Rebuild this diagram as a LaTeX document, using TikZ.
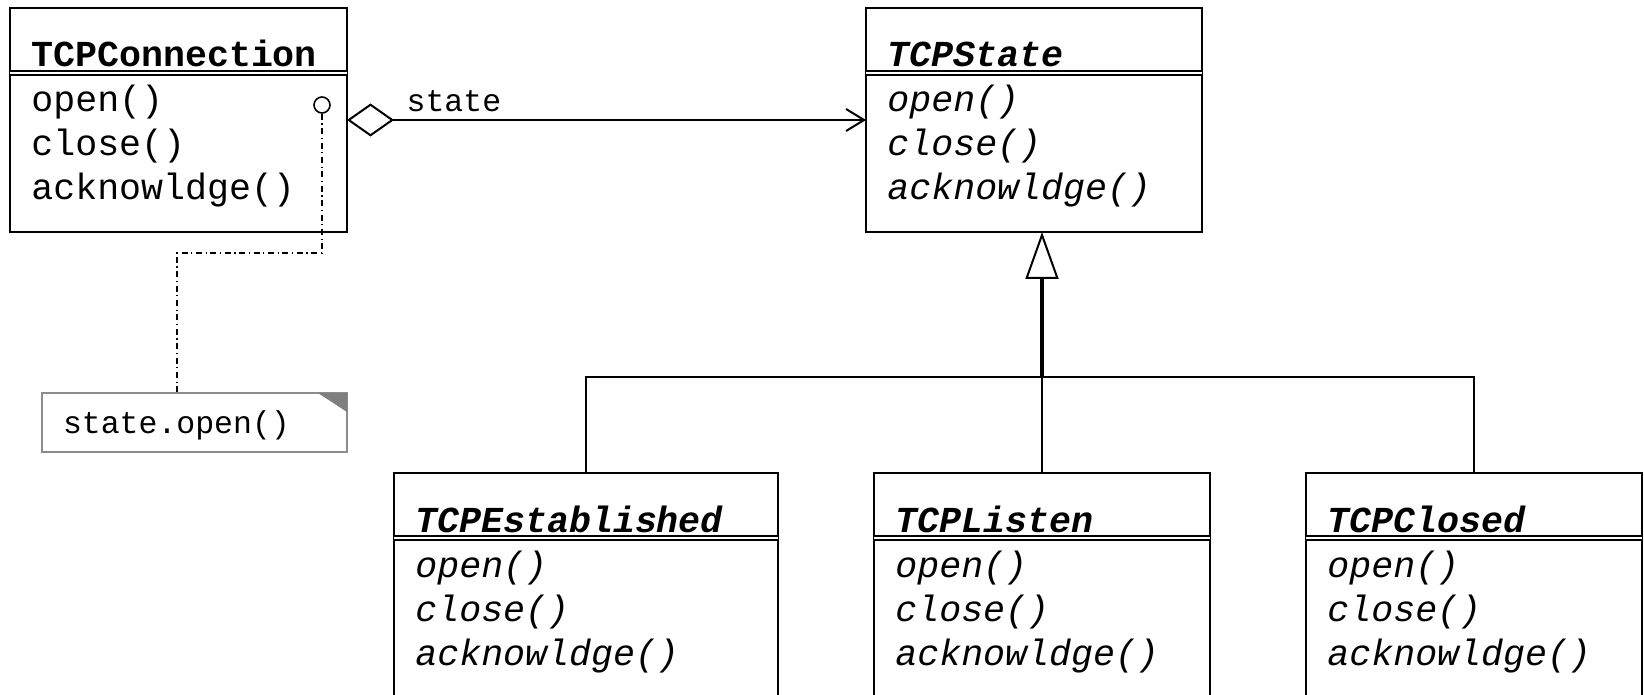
\documentclass[tikz,border=0pt]{standalone}
\usepackage{fontspec}
\setmonofont{Liberation Mono}
\usepackage{tikz}
\usetikzlibrary{arrows.meta,positioning,calc}
\definecolor{cInk}{HTML}{000000}
\definecolor{cNote}{HTML}{8C8C8C}
\definecolor{cFold}{HTML}{7F7F7F}
\newcommand{\umlfont}{\fontsize{18.3}{22}\selectfont\ttfamily}
\newcommand{\umlsmall}{\fontsize{15.75}{19}\selectfont\ttfamily}
\tikzset{
  cls/.style={draw=cInk,line width=1.15pt,anchor=north west,outer sep=0pt,inner sep=0pt,minimum width=#1,minimum height=112pt},
  cls/.default=168pt,
  cname/.style={anchor=base west,inner sep=0pt,text=cInk,font=\umlfont\bfseries},
  aname/.style={cname,font=\umlfont\bfseries\itshape},
  op/.style={anchor=base west,inner sep=0pt,text=cInk,font=\umlfont},
  aop/.style={op,font=\umlfont\itshape},
  sep/.style={draw=cInk,line width=1pt,double=white,double distance=1.35pt},
  assoc/.style={{Diamond[open,length=23.5pt,width=16.5pt]}-{Straight Barb[length=9pt,width=11pt]},line width=1pt,color=cInk},
  gen/.style={-{Triangle[open,length=23.5pt,width=16.5pt,line width=1pt]},line width=1.6pt,color=cInk},
  tree/.style={line width=0.9pt,color=cInk},
  lbl/.style={font=\umlsmall,text=cInk,inner sep=0pt},
  port/.style={circle,draw=cInk,line width=0.8pt,fill=white,minimum size=8pt,inner sep=0pt},
  notelink/.style={line width=0.8pt,color=cInk,dash pattern=on 3pt off 1.8pt on 0.6pt off 1.8pt},
  notebox/.style={draw=cNote,fill=white,line width=0.9pt,anchor=north west,outer sep=0pt,
    minimum width=152.5pt,text width=131.5pt,inner xsep=10.5pt,inner ysep=0pt,align=left,
    text height=20pt,text depth=9.5pt,font=\umlsmall},
}
\begin{document}
\begin{tikzpicture}[x=0.5pt,y=-0.5pt]
  \useasboundingbox (0,0) rectangle (1644,695);
  % classes
  \node[cls=168.5pt] (conn) at (10,8) {};
  \node[cls] (state) at (866,8) {};
  \node[cls=192pt] (est) at (394,473) {};
  \node[cls] (listen) at (874,473) {};
  \node[cls] (closed) at (1306,473) {};
  \node[cname] (conn-name) at ($(conn.north west)+(21,59)$) {TCPConnection};
  \node[aname] (state-name) at ($(state.north west)+(21,59)$) {TCPState};
  \node[aname] (est-name) at ($(est.north west)+(21,59)$) {TCPEstablished};
  \node[aname] (listen-name) at ($(listen.north west)+(21,59)$) {TCPListen};
  \node[aname] (closed-name) at ($(closed.north west)+(21,59)$) {TCPClosed};
  \draw[sep] ($(conn.north west)+(0,65)$) -- ($(conn.north east)+(0,65)$);
  \foreach \m [count=\i] in {open(),close(),acknowldge()}
    \node[op] (conn-op\i) at ($(conn.north west)+(21,60+44*\i)$) {\m};
  \foreach \c in {state,est,listen,closed}{
    \draw[sep] ($(\c.north west)+(0,65)$) -- ($(\c.north east)+(0,65)$);
    \foreach \m [count=\i] in {open(),close(),acknowldge()}
      \node[aop] (\c-op\i) at ($(\c.north west)+(21,60+44*\i)$) {\m};
  }
  % association
  \draw[assoc] (conn.east) -- node[lbl,anchor=base,pos=0.206,yshift=4pt] (assoc-lbl) {state} (state.west);
  % generalization
  \coordinate (tree-y) at (0,377);
  \coordinate (tree-j) at (listen.north |- tree-y);
  \draw[tree] (est.north) |- (tree-j) -| (closed.north);
  \draw[tree,line width=0.65pt] (listen.north) -- (tree-j);
  \draw[gen] (tree-j) -- (listen.north |- state.south);
  % note
  \node[port] (conn-port) at (322,105) {};
  \node[notebox] (note) at (42,393) {state.open()};
  \fill[cFold] ($(note.north east)+(-29,0)$) -- (note.north east) -- ($(note.north east)+(0,19)$) -- cycle;
  \coordinate (link-bend) at (177,253);
  \draw[notelink] (conn-port) |- (link-bend) -- (link-bend |- note.north);
\end{tikzpicture}
\end{document}
